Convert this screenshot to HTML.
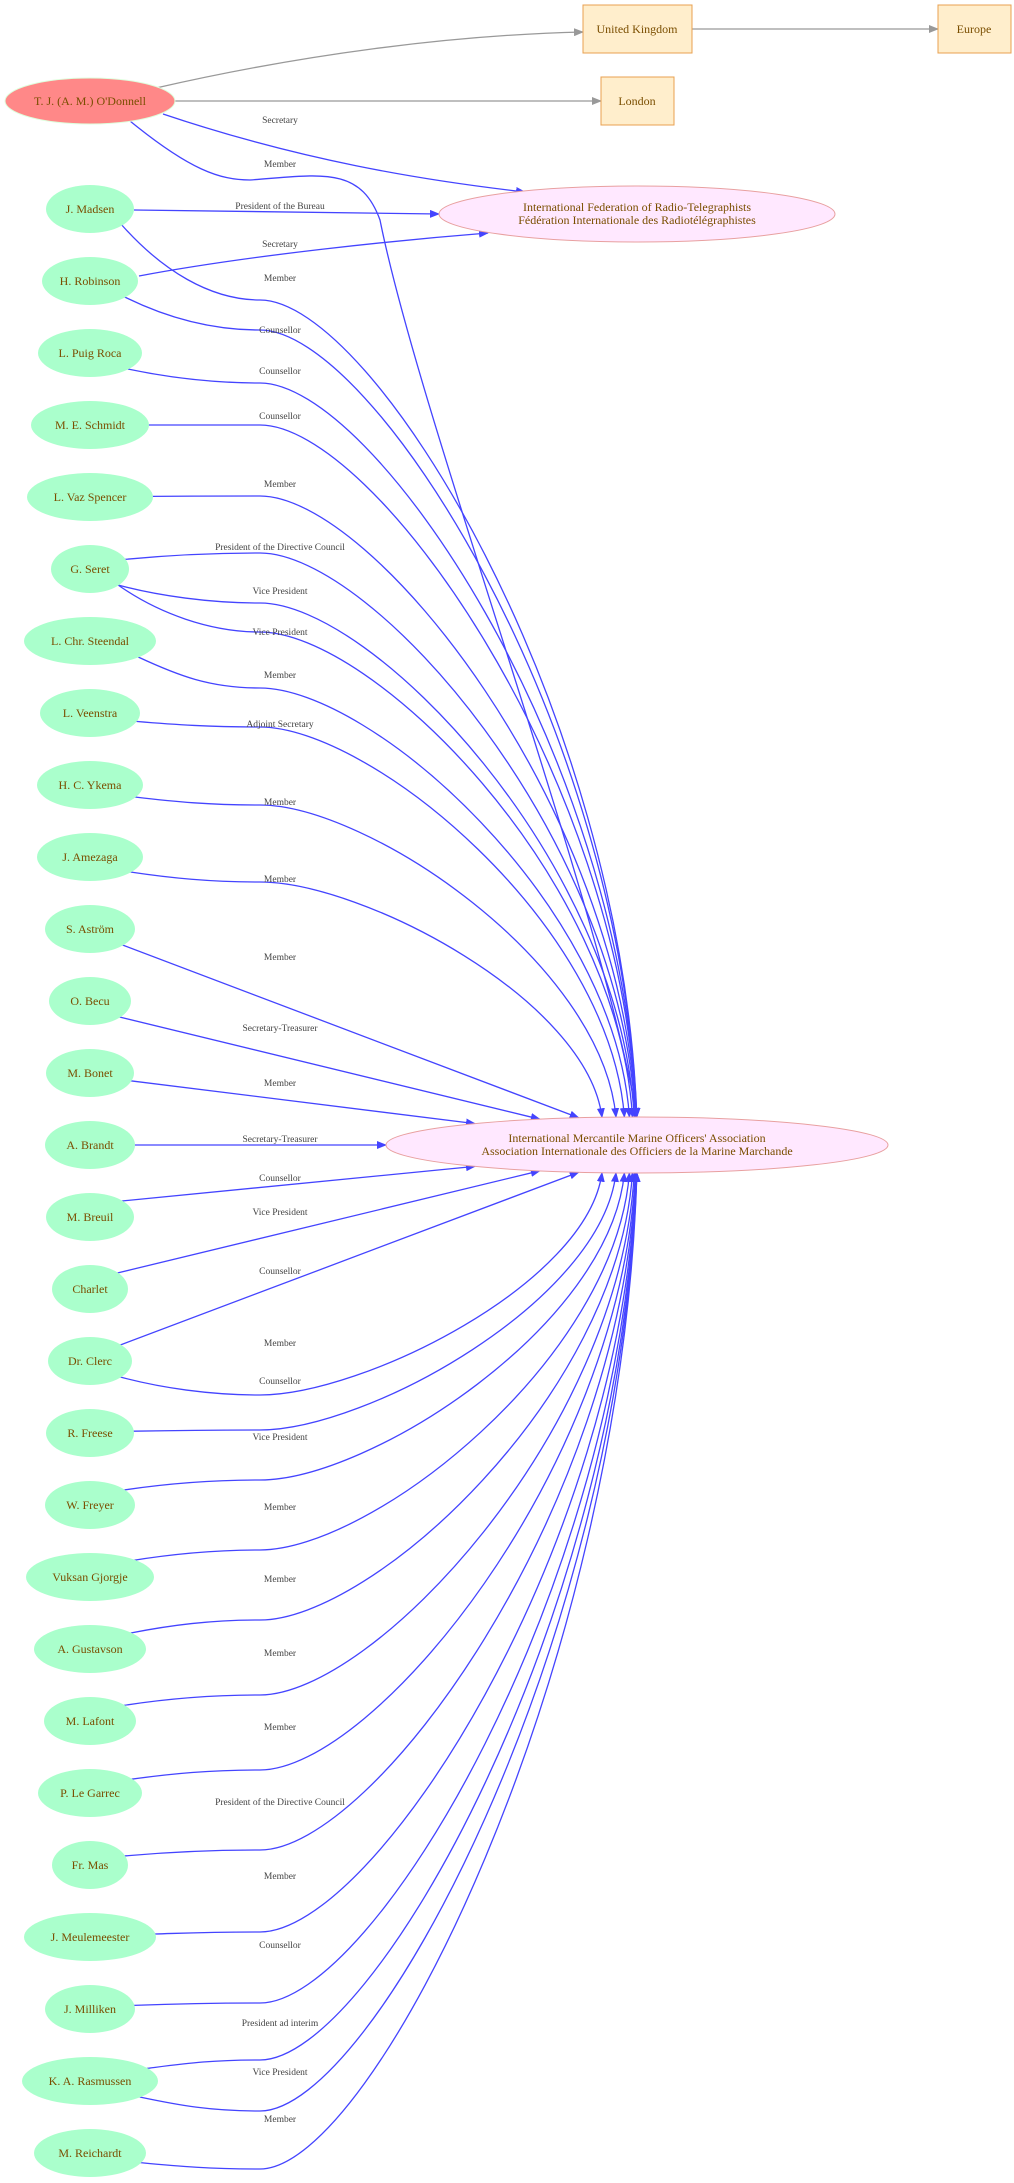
<!DOCTYPE html>
<html><head><meta charset="utf-8"><style>
html,body{margin:0;padding:0;background:#fff;}
svg{display:block;}
.n{font-family:"Liberation Serif",serif;font-size:12px;fill:#7a4e00;text-anchor:middle;}
.l{font-family:"Liberation Serif",serif;font-size:9.5px;fill:#444;text-anchor:middle;}
</style></head><body>
<svg id="s" width="1014" height="2183" viewBox="0 0 1014 2183" xmlns="http://www.w3.org/2000/svg">
<defs>
<marker id="ab" markerWidth="10" markerHeight="8" refX="9" refY="4" orient="auto" markerUnits="userSpaceOnUse"><path d="M0,0 L10,4 L0,8 z" fill="#4444ff"/></marker>
<marker id="ag" markerWidth="10" markerHeight="8" refX="9" refY="4" orient="auto" markerUnits="userSpaceOnUse"><path d="M0,0 L10,4 L0,8 z" fill="#999"/></marker>
</defs>
<g id="edges" fill="none" stroke="#4444ff" stroke-width="1.3"></g>
<path d="M156,88 C300,55 450,35 583,32" stroke="#999" stroke-width="1.3" fill="none" marker-end="url(#ag)"/>
<path d="M692,29 L938,29" stroke="#999" stroke-width="1.3" fill="none" marker-end="url(#ag)"/>
<path d="M175,101 L601,101" stroke="#999" stroke-width="1.3" fill="none" marker-end="url(#ag)"/>
<rect x="583" y="5" width="109" height="48" fill="#ffeecc" stroke="#e8a050"/>
<text class="n" x="637" y="33">United Kingdom</text>
<rect x="938" y="5" width="73" height="48" fill="#ffeecc" stroke="#e8a050"/>
<text class="n" x="974" y="33">Europe</text>
<rect x="601" y="77" width="73" height="48" fill="#ffeecc" stroke="#e8a050"/>
<text class="n" x="637" y="105">London</text>
<ellipse cx="637" cy="214" rx="198" ry="28" fill="#ffe8ff" stroke="#e8a0a0"/>
<text class="n" x="637" y="211">International Federation of Radio-Telegraphists</text>
<text class="n" x="637" y="224">Fédération Internationale des Radiotélégraphistes</text>
<ellipse cx="637" cy="1145" rx="251" ry="28" fill="#ffe8ff" stroke="#e8a0a0"/>
<text class="n" x="637" y="1142">International Mercantile Marine Officers' Association</text>
<text class="n" x="637" y="1155">Association Internationale des Officiers de la Marine Marchande</text>
<ellipse cx="90" cy="101" rx="85" ry="23" fill="#ff8888" stroke="#ddffdd"/>
<text class="n" x="90" y="105">T. J. (A. M.) O'Donnell</text>
<g id="labels">
<text class="l" x="280" y="123">Secretary</text>
<text class="l" x="280" y="167">Member</text>
<text class="l" x="280" y="209">President of the Bureau</text>
<text class="l" x="280" y="247">Secretary</text>
<text class="l" x="280" y="281">Member</text>
<text class="l" x="280" y="333">Counsellor</text>
<text class="l" x="280" y="374">Counsellor</text>
<text class="l" x="280" y="419">Counsellor</text>
<text class="l" x="280" y="487">Member</text>
<text class="l" x="280" y="550">President of the Directive Council</text>
<text class="l" x="280" y="594">Vice President</text>
<text class="l" x="280" y="635">Vice President</text>
<text class="l" x="280" y="678">Member</text>
<text class="l" x="280" y="727">Adjoint Secretary</text>
<text class="l" x="280" y="805">Member</text>
<text class="l" x="280" y="882">Member</text>
<text class="l" x="280" y="960">Member</text>
<text class="l" x="280" y="1031">Secretary-Treasurer</text>
<text class="l" x="280" y="1086">Member</text>
<text class="l" x="280" y="1142">Secretary-Treasurer</text>
<text class="l" x="280" y="1181">Counsellor</text>
<text class="l" x="280" y="1215">Vice President</text>
<text class="l" x="280" y="1274">Counsellor</text>
<text class="l" x="280" y="1346">Member</text>
<text class="l" x="280" y="1384">Counsellor</text>
<text class="l" x="280" y="1440">Vice President</text>
<text class="l" x="280" y="1510">Member</text>
<text class="l" x="280" y="1582">Member</text>
<text class="l" x="280" y="1656">Member</text>
<text class="l" x="280" y="1730">Member</text>
<text class="l" x="280" y="1805">President of the Directive Council</text>
<text class="l" x="280" y="1879">Member</text>
<text class="l" x="280" y="1948">Counsellor</text>
<text class="l" x="280" y="2026">President ad interim</text>
<text class="l" x="280" y="2075">Vice President</text>
<text class="l" x="280" y="2122">Member</text>
</g>
<g>
<ellipse cx="90" cy="209" rx="44" ry="24" fill="#aaffcc"/><text class="n" x="90" y="213">J. Madsen</text>
<ellipse cx="90" cy="281" rx="48" ry="24" fill="#aaffcc"/><text class="n" x="90" y="285">H. Robinson</text>
<ellipse cx="90" cy="353" rx="52" ry="24" fill="#aaffcc"/><text class="n" x="90" y="357">L. Puig Roca</text>
<ellipse cx="90" cy="425" rx="59" ry="24" fill="#aaffcc"/><text class="n" x="90" y="429">M. E. Schmidt</text>
<ellipse cx="90" cy="497" rx="63" ry="24" fill="#aaffcc"/><text class="n" x="90" y="501">L. Vaz Spencer</text>
<ellipse cx="90" cy="569" rx="39" ry="24" fill="#aaffcc"/><text class="n" x="90" y="573">G. Seret</text>
<ellipse cx="90" cy="641" rx="66" ry="24" fill="#aaffcc"/><text class="n" x="90" y="645">L. Chr. Steendal</text>
<ellipse cx="90" cy="713" rx="50" ry="24" fill="#aaffcc"/><text class="n" x="90" y="717">L. Veenstra</text>
<ellipse cx="90" cy="785" rx="53" ry="24" fill="#aaffcc"/><text class="n" x="90" y="789">H. C. Ykema</text>
<ellipse cx="90" cy="857" rx="53" ry="24" fill="#aaffcc"/><text class="n" x="90" y="861">J. Amezaga</text>
<ellipse cx="90" cy="929" rx="45" ry="24" fill="#aaffcc"/><text class="n" x="90" y="933">S. Aström</text>
<ellipse cx="90" cy="1001" rx="41" ry="24" fill="#aaffcc"/><text class="n" x="90" y="1005">O. Becu</text>
<ellipse cx="90" cy="1073" rx="44" ry="24" fill="#aaffcc"/><text class="n" x="90" y="1077">M. Bonet</text>
<ellipse cx="90" cy="1145" rx="45" ry="24" fill="#aaffcc"/><text class="n" x="90" y="1149">A. Brandt</text>
<ellipse cx="90" cy="1217" rx="44" ry="24" fill="#aaffcc"/><text class="n" x="90" y="1221">M. Breuil</text>
<ellipse cx="90" cy="1289" rx="38" ry="24" fill="#aaffcc"/><text class="n" x="90" y="1293">Charlet</text>
<ellipse cx="90" cy="1361" rx="42" ry="24" fill="#aaffcc"/><text class="n" x="90" y="1365">Dr. Clerc</text>
<ellipse cx="90" cy="1433" rx="44" ry="24" fill="#aaffcc"/><text class="n" x="90" y="1437">R. Freese</text>
<ellipse cx="90" cy="1505" rx="45" ry="24" fill="#aaffcc"/><text class="n" x="90" y="1509">W. Freyer</text>
<ellipse cx="90" cy="1577" rx="64" ry="24" fill="#aaffcc"/><text class="n" x="90" y="1581">Vuksan Gjorgje</text>
<ellipse cx="90" cy="1649" rx="56" ry="24" fill="#aaffcc"/><text class="n" x="90" y="1653">A. Gustavson</text>
<ellipse cx="90" cy="1721" rx="46" ry="24" fill="#aaffcc"/><text class="n" x="90" y="1725">M. Lafont</text>
<ellipse cx="90" cy="1793" rx="52" ry="24" fill="#aaffcc"/><text class="n" x="90" y="1797">P. Le Garrec</text>
<ellipse cx="90" cy="1865" rx="38" ry="24" fill="#aaffcc"/><text class="n" x="90" y="1869">Fr. Mas</text>
<ellipse cx="90" cy="1937" rx="66" ry="24" fill="#aaffcc"/><text class="n" x="90" y="1941">J. Meulemeester</text>
<ellipse cx="90" cy="2009" rx="45" ry="24" fill="#aaffcc"/><text class="n" x="90" y="2013">J. Milliken</text>
<ellipse cx="90" cy="2081" rx="68" ry="24" fill="#aaffcc"/><text class="n" x="90" y="2085">K. A. Rasmussen</text>
<ellipse cx="90" cy="2153" rx="56" ry="24" fill="#aaffcc"/><text class="n" x="90" y="2157">M. Reichardt</text>
</g>
</svg>
<script>
(function(){
var g=document.getElementById('edges');
function add(d,m){var p=document.createElementNS('http://www.w3.org/2000/svg','path');p.setAttribute('d',d);p.setAttribute('marker-end','url(#'+(m||'ab')+')');g.appendChild(p);}
add('M163,114 C300,160 420,180 525,192');
add('M134,210 L439,214');
add('M139,276 C250,255 400,240 488,233');
add('M134,1145 L386,1145');
function ell(tx,up){var dx=(tx-637)/251;var h=28*Math.sqrt(Math.max(0,1-dx*dx));return up?1145-h:1145+h;}
var up=[[1073,44,1086],[1001,41,1031],[929,45,960],[857,53,882],[785,53,805],[713,50,727],[641,66,688],[569,39,632],[569,39,603],[569,39,553],[497,63,496],[425,59,425],[353,52,383],[281,48,330],[209,44,300],[101,85,180]];
var lo=[[1217,44,1181],[1289,38,1215],[1361,42,1274],[1361,42,1395],[1433,44,1430],[1505,45,1480],[1577,54,1550],[1649,56,1620],[1721,46,1695],[1793,52,1770],[1865,38,1850],[1937,66,1932],[2009,45,2003],[2081,68,2060],[2081,68,2111],[2153,56,2169]];
function tx(k){return 637-162*Math.pow(0.6,k);}
function run(arr,isUp){
for(var k=0;k<arr.length;k++){
var ny=arr[k][0],rx=arr[k][1],wy=arr[k][2];
var t=tx(k),ty=ell(t,isUp);
if(isUp&&k==arr.length-1){
add('M130,121 C190,170 220,180 250,180 C320,175 360,165 380,220 C420,420 600,900 '+t+','+ty);continue;}
var sy=ny+(wy>ny?1:-1)*Math.min(16,Math.abs(wy-ny)*0.6);
var sx=90+rx*Math.sqrt(1-Math.pow((sy-ny)/24,2))-1;
if(k<3){add('M'+sx+','+sy+' L'+t+','+ty);continue;}
var c1x=260+(t-260)*0.3;
var d='M'+sx+','+sy+' C'+(sx+40)+','+(sy+(wy-sy)*0.6)+' 210,'+wy+' 260,'+wy+' C'+c1x+','+wy+' '+(t-15)+','+(ty+(wy-ty)*0.5)+' '+t+','+ty;
add(d);
}}
run(up,true);run(lo,false);
})();
</script>
</body></html>
